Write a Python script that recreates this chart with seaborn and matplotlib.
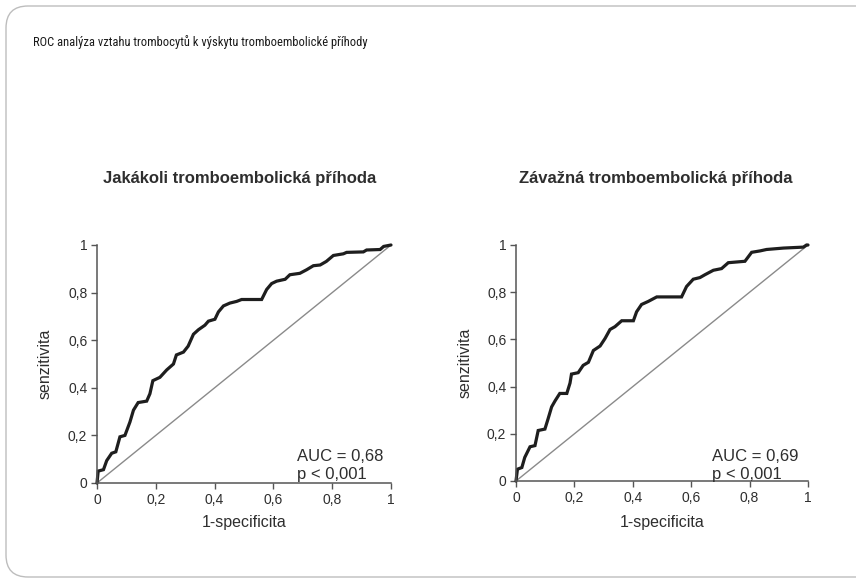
import numpy as np
import pandas as pd
import matplotlib
matplotlib.use("Agg")
import matplotlib.pyplot as plt
from matplotlib.patches import FancyBboxPatch
from matplotlib import font_manager
import seaborn as sns

# ---------------- data ----------------
main_title = "ROC analýza vztahu trombocytů k výskytu tromboembolické příhody"
panel_titles = ["Jakákoli tromboembolická příhoda", "Závažná tromboembolická příhoda"]
auc_labels = ["AUC = 0,68", "AUC = 0,69"]
p_labels = ["p < 0,001", "p < 0,001"]
tick_values = [0, 0.2, 0.4, 0.6, 0.8, 1]
tick_labels = ["0", "0,2", "0,4", "0,6", "0,8", "1"]

fpr_any = [0, 0.004, 0.022, 0.033, 0.05, 0.064, 0.078, 0.095, 0.112, 0.124, 0.14, 0.169,
           0.18, 0.19, 0.214, 0.237, 0.26, 0.27, 0.294, 0.31, 0.328, 0.345, 0.367, 0.379,
           0.401, 0.413, 0.43, 0.452, 0.475, 0.492, 0.56, 0.577, 0.594, 0.611, 0.64, 0.656,
           0.69, 0.713, 0.736, 0.759, 0.78, 0.804, 0.838, 0.849, 0.906, 0.917, 0.963, 0.975, 1]
tpr_any = [0, 0.05, 0.056, 0.094, 0.125, 0.131, 0.194, 0.2, 0.256, 0.306, 0.338, 0.344,
           0.375, 0.43, 0.444, 0.475, 0.5, 0.538, 0.55, 0.575, 0.625, 0.644, 0.663, 0.68,
           0.688, 0.719, 0.744, 0.756, 0.763, 0.771, 0.771, 0.813, 0.838, 0.848, 0.856, 0.875,
           0.881, 0.896, 0.913, 0.916, 0.931, 0.956, 0.963, 0.969, 0.971, 0.979, 0.981, 0.994, 1]

fpr_sev = [0, 0.005, 0.02, 0.03, 0.048, 0.065, 0.076, 0.099, 0.11, 0.122, 0.134, 0.15,
           0.174, 0.185, 0.19, 0.213, 0.23, 0.248, 0.265, 0.288, 0.305, 0.322, 0.339, 0.362,
           0.402, 0.413, 0.43, 0.453, 0.482, 0.567, 0.584, 0.607, 0.63, 0.647, 0.676, 0.704,
           0.727, 0.784, 0.807, 0.836, 0.858, 0.916, 0.984, 0.995, 1]
tpr_sev = [0, 0.05, 0.057, 0.1, 0.145, 0.15, 0.214, 0.22, 0.264, 0.314, 0.34, 0.371,
           0.371, 0.415, 0.453, 0.459, 0.49, 0.503, 0.553, 0.572, 0.604, 0.642, 0.654, 0.679,
           0.679, 0.717, 0.748, 0.761, 0.78, 0.78, 0.824, 0.855, 0.862, 0.874, 0.893, 0.9,
           0.925, 0.931, 0.969, 0.975, 0.981, 0.987, 0.991, 1, 1]

diag = [0, 1]

# ---------------- style ----------------
sns.set_theme(style="white")
plt.rcParams["font.family"] = ["Liberation Sans", "DejaVu Sans"]
TXT = "#2e2e2e"

W, H = 856, 581
fig = plt.figure(figsize=(W / 100, H / 100), dpi=100)
fig.patch.set_facecolor("white")

# rounded frame
frame = FancyBboxPatch((6 / 100, 4 / 100), 900 / 100, 571 / 100,
                       boxstyle="round,pad=0,rounding_size=0.22",
                       transform=fig.dpi_scale_trans, fill=False,
                       edgecolor="#bdbdbd", linewidth=1.0, zorder=0)
fig.patches.append(frame)

# condensed font (regular/medium weight) for the main title if one is installed
title_fp = None
pref = ["Liberation Sans Narrow", "Arial Narrow", "Roboto Condensed", "DejaVu Sans Condensed"]
fl = font_manager.fontManager.ttflist
bad = ("Light", "Thin", "Italic", "Oblique", "Bold", "Black", "Extra", "Semi")
for name in pref:
    hits = [f for f in fl if f.name == name and f.style == "normal"
            and not any(k in f.fname for k in bad)]
    hits.sort(key=lambda f: abs((f.weight if isinstance(f.weight, int) else 400) - 450))
    if hits:
        title_fp = font_manager.FontProperties(fname=hits[0].fname)
        break
if title_fp is None:
    title_fp = font_manager.FontProperties(family=["Liberation Sans", "DejaVu Sans"])
title_fp.set_size(10)
ttl = fig.text(33 / W, 1 - 42 / H, main_title, ha="left", va="center",
               fontproperties=title_fp, color="#1a1a1a")
fig.canvas.draw()
tw = ttl.get_window_extent().width
title_fp.set_size(10 * 332.0 / tw)
ttl.set_fontproperties(title_fp)

axes_px = [(97, 483, 294, 238), (516, 481, 292, 236)]
curves = [(fpr_any, tpr_any), (fpr_sev, tpr_sev)]
title_x = [240, 656]
ylab_x = [45, 465]
auc_x = [297, 712]

for i, (l, b, w, h) in enumerate(axes_px):
    ax = fig.add_axes([l / W, (H - b) / H, w / W, h / H])
    ax.set_facecolor("white")
    fx, ty = curves[i]
    sns.lineplot(x=diag, y=diag, ax=ax, color="#8a8a8a", linewidth=1.0,
                 estimator=None, sort=False, clip_on=False)
    df = pd.DataFrame({"fpr": fx, "tpr": ty})
    sns.lineplot(data=df, x="fpr", y="tpr", ax=ax, color="#1e1e1e", linewidth=2.3,
                 estimator=None, sort=False, clip_on=False, solid_joinstyle="miter")
    ax.set_xlim(0, 1)
    ax.set_ylim(0, 1)
    ax.set_xticks(tick_values)
    ax.set_xticklabels(tick_labels)
    ax.set_yticks(tick_values)
    ax.set_yticklabels(tick_labels)
    for s in ["top", "right"]:
        ax.spines[s].set_visible(False)
    for s in ["left", "bottom"]:
        ax.spines[s].set_color("#555555")
        ax.spines[s].set_linewidth(1.1)
    ax.tick_params(axis="both", direction="out", length=4, width=1, color="#555555",
                   labelsize=10, labelcolor=TXT, pad=3, left=True, bottom=True)
    ax.set_xlabel("")
    ax.set_ylabel("")
    ax.text(0.5, -(523 - b) / h, "1-specificita", transform=ax.transAxes,
            ha="center", va="center", fontsize=11.5, color=TXT)
    ax.text(-(l - ylab_x[i]) / w, 0.5, "senzitivita",
            transform=ax.transAxes, rotation=90, ha="center", va="center",
            fontsize=11.5, color=TXT)
    ax.text((title_x[i] - l) / w, 1 + (245 - 178) / h, panel_titles[i],
            transform=ax.transAxes, ha="center", va="center", fontsize=12,
            fontweight="bold", color=TXT)
    ax.text((auc_x[i] - l) / w, (b - 461) / h, auc_labels[i], transform=ax.transAxes,
            ha="left", va="baseline", fontsize=12, color=TXT)
    ax.text((auc_x[i] - l) / w, (b - 479) / h, p_labels[i], transform=ax.transAxes,
            ha="left", va="baseline", fontsize=12, color=TXT)

fig.savefig("out.png", dpi=100, facecolor="white")
